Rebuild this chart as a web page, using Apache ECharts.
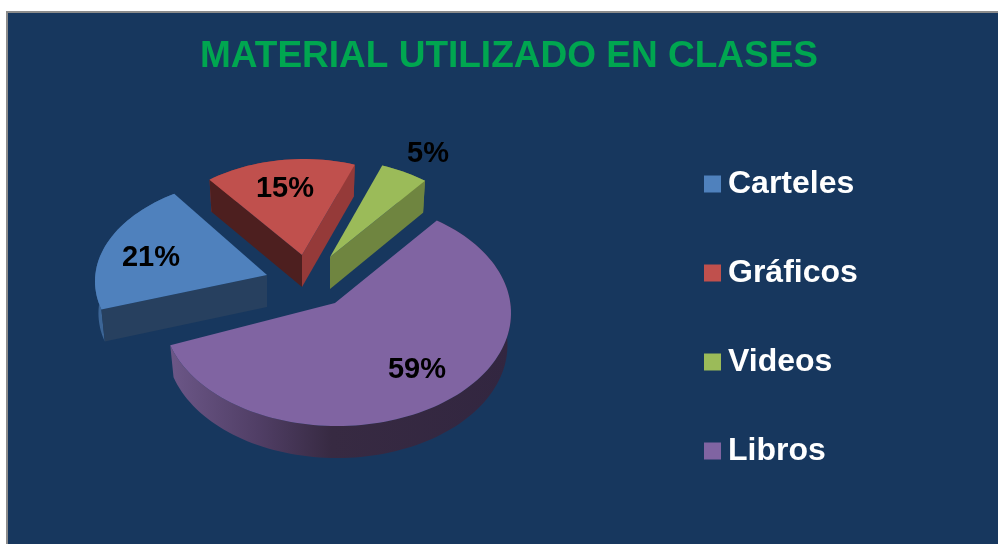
<!DOCTYPE html>
<html>
<head>
<meta charset="utf-8">
<style>html,body{margin:0;padding:0;background:#fff}#c{width:998px;height:544px}</style>
<script src="https://cdn.jsdelivr.net/npm/echarts@6/dist/echarts.min.js"></script>
</head>
<body>
<div id="c"></div>
<script>
// ---- data ----
const titleText = 'MATERIAL UTILIZADO EN CLASES';
const categories = ['Carteles', 'Gráficos', 'Videos', 'Libros'];
const values = [21, 15, 5, 59];
const firstSliceAngle = 249.4; // clockwise from the back of the pie

// ---- look ----
const topColors = ['#4f81bd', '#c0504d', '#9bbb59', '#8064a2'];
const rimColors = ['#3c6596', '#953a39', '#6f8540', {
  type: 'linear', x: 166, y: 0, x2: 511, y2: 0, global: true,
  colorStops: [
    {offset: 0, color: '#6d5889'}, {offset: 0.27, color: '#503e65'},
    {offset: 0.48, color: '#372a42'}, {offset: 1, color: '#322640'}
  ]
}];
const startWall = ['#27405f', '#4d1f1f', null, null];
const endWall = [null, '#953a39', '#6f8540', null];
const apexX = [267, 302, 330, 335];
const apexY = [275, 255, 257, 303];
const scaleX = [1, 0.9, 0.89, 1];
const scaleY = [0.9, 0.88, 0.89, 1];
const radiusY = [116, 116, 116, 113];
const offsetY = [7, 7, 7, 10];
const startAdjust = [5, -2, 0, -2];
const endAdjust = [2, 0, 0, 4];
const labelX = [151, 285, 428, 417];
const labelY = [258, 189, 154, 370];
const RX = 174, OFFX = 2, DEPTH = 32, WALLX = 0.98;

const total = values.reduce((a, b) => a + b, 0);
function sliceAngles(i) {
  let a = firstSliceAngle;
  for (let k = 0; k < i; k++) a += values[k] / total * 360;
  return [a + startAdjust[i], a + values[i] / total * 360 + endAdjust[i]];
}
function rim(i, deg, down) {
  const t = deg * Math.PI / 180;
  const dx = (OFFX + RX * Math.sin(t)) * scaleX[i];
  const dy = (offsetY[i] - radiusY[i] * Math.cos(t)) * scaleY[i];
  return down ? [apexX[i] + dx * WALLX, apexY[i] + dy + DEPTH]
              : [apexX[i] + dx, apexY[i] + dy];
}
function arc(i, a0, a1, down) {
  const pts = [], n = Math.max(8, Math.ceil((a1 - a0) / 2));
  for (let k = 0; k <= n; k++) pts.push(rim(i, a0 + (a1 - a0) * k / n, down));
  return pts;
}
function poly(points, fill) {
  return {type: 'polygon', shape: {points}, style: {fill, stroke: null}};
}
function renderSlice(i) {
  return function (params, api) {
    const [a0, a1] = sliceAngles(i);
    const ax = apexX[i], ay = apexY[i];
    const kids = [];
    kids.push(poly(arc(i, a0, a1, false).concat(arc(i, a0, a1, true).reverse()), rimColors[i]));
    if (startWall[i]) kids.push(poly([[ax, ay], rim(i, a0, false), rim(i, a0, true), [ax, ay + DEPTH]], startWall[i]));
    if (endWall[i]) kids.push(poly([[ax, ay], rim(i, a1, false), rim(i, a1, true), [ax, ay + DEPTH]], endWall[i]));
    kids.push(poly([[ax, ay]].concat(arc(i, a0, a1, false)), topColors[i]));
    kids.push({
      type: 'text', z2: 10,
      style: {
        text: api.value(0) + '%', x: labelX[i], y: labelY[i],
        fill: '#000', align: 'center', verticalAlign: 'middle',
        font: 'bold 29px "Liberation Sans", Arial, sans-serif'
      }
    });
    return {type: 'group', children: kids};
  };
}

const chart = echarts.init(document.getElementById('c'), null, {width: 998, height: 544});
chart.setOption({
  animation: false,
  backgroundColor: '#ffffff',
  graphic: [{
    type: 'rect', silent: true,
    shape: {x: 7, y: 12, width: 1010, height: 550},
    style: {fill: '#17375e', stroke: '#8c8c8c', lineWidth: 2}
  }],
  title: {
    text: titleText, left: 504, top: 33, textAlign: 'center',
    textStyle: {color: '#00a650', fontFamily: '"Liberation Sans", Arial, sans-serif', fontWeight: 'bold', fontSize: 37}
  },
  legend: {
    orient: 'vertical', left: 699, top: 163, itemGap: 57,
    itemWidth: 17, itemHeight: 17, icon: 'rect',
    data: categories,
    textStyle: {color: '#fff', fontFamily: '"Liberation Sans", Arial, sans-serif', fontWeight: 'bold', fontSize: 32, padding: [0, 0, 0, 2]}
  },
  series: categories.map((name, i) => ({
    type: 'custom', name, coordinateSystem: 'none', silent: true,
    itemStyle: {color: topColors[i]},
    data: [[values[i]]],
    renderItem: renderSlice(i)
  }))
});
</script>
</body>
</html>
